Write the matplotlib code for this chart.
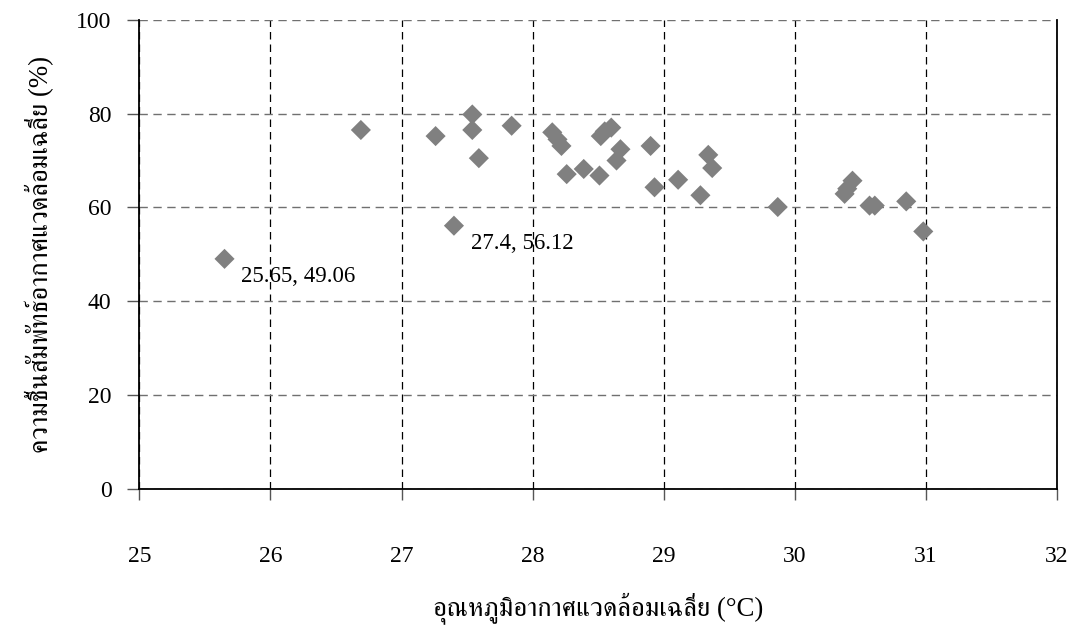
import matplotlib
matplotlib.use("Agg")
import matplotlib.pyplot as plt
from matplotlib import font_manager, ft2font

# Average ambient temperature (°C) and relative humidity (%)
temperature = [25.65, 26.69, 27.26, 27.40, 27.54, 27.54, 27.59, 27.84,
               28.15, 28.19, 28.22, 28.26, 28.39, 28.51, 28.52, 28.55,
               28.60, 28.67, 28.64, 28.90, 28.93, 29.11, 29.34, 29.37,
               29.28, 29.87, 30.44, 30.40, 30.38, 30.57, 30.61, 30.85,
               30.98]
humidity = [49.06, 76.5, 75.2, 56.12, 79.8, 76.5, 70.5, 77.4,
            76.0, 74.5, 73.1, 67.1, 68.2, 66.8, 75.2, 76.2,
            77.0, 72.4, 70.0, 73.1, 64.3, 65.9, 71.2, 68.4,
            62.6, 60.1, 65.7, 64.0, 62.9, 60.4, 60.4, 61.3,
            54.9]
labelled_points = [(25.65, 49.06), (27.4, 56.12)]

x_ticks = [25, 26, 27, 28, 29, 30, 31, 32]
y_ticks = [0, 20, 40, 60, 80, 100]

x_label = "อุณหภูมิอากาศแวดล้อมเฉลี่ย (°C)"
y_label = "ความชื้นสัมพัทธ์อากาศแวดล้อมเฉลี่ย (%)"


def thai_families():
    """Installed families that carry Thai glyphs, serif faces first."""
    found = []
    for entry in font_manager.fontManager.ttflist:
        try:
            cmap = ft2font.FT2Font(entry.fname).get_charmap()
        except Exception:
            continue
        if 0x0E01 in cmap and entry.name not in found:
            found.append(entry.name)
    found.sort(key=lambda n: 0 if "Serif" in n else 1)
    return found


num_family = ["Liberation Serif", "DejaVu Serif"]
thai_family = ["Liberation Serif"] + thai_families() + ["DejaVu Sans"]

fig = plt.figure(figsize=(10.72, 6.26), dpi=100)
ax = fig.add_axes([0.12995, 0.21837, 0.85606, 0.75032])

ax.scatter(temperature, humidity, marker="D", s=105, color="#808080",
           edgecolors="none", zorder=3, clip_on=False)

for px, py in labelled_points:
    ax.annotate(f"{px:g}, {py:g}", (px, py), xytext=(12, -5),
                textcoords="offset points", ha="left", va="top",
                fontsize=16.5, family=num_family, color="black", zorder=4)

ax.set_xlim(25, 32)
ax.set_ylim(0, 100)
ax.set_xticks(x_ticks)
ax.set_yticks(y_ticks)
ax.set_xticklabels([str(v) for v in x_ticks], family=num_family, fontsize=17)
ax.set_yticklabels([str(v) for v in y_ticks], family=num_family, fontsize=17)

ax.tick_params(axis="x", direction="out", length=8, width=1, color="#555555",
               pad=33)
ax.tick_params(axis="y", direction="out", length=9, width=1, color="#555555",
               pad=11)

ax.xaxis.grid(True, linestyle=(0, (6, 4)), color="black", linewidth=0.9)
ax.yaxis.grid(True, linestyle=(0, (6, 4)), color="#707070", linewidth=1.0)
ax.set_axisbelow(True)

for side in ("left", "bottom", "right"):
    ax.spines[side].set_color("black")
    ax.spines[side].set_linewidth(1.3)
ax.spines["top"].set_visible(False)

ax.set_xlabel(x_label, family=thai_family, fontsize=19.3, labelpad=18)
ax.set_ylabel(y_label, family=thai_family, fontsize=19.3, labelpad=16)

fig.savefig("out.png", dpi=100)
